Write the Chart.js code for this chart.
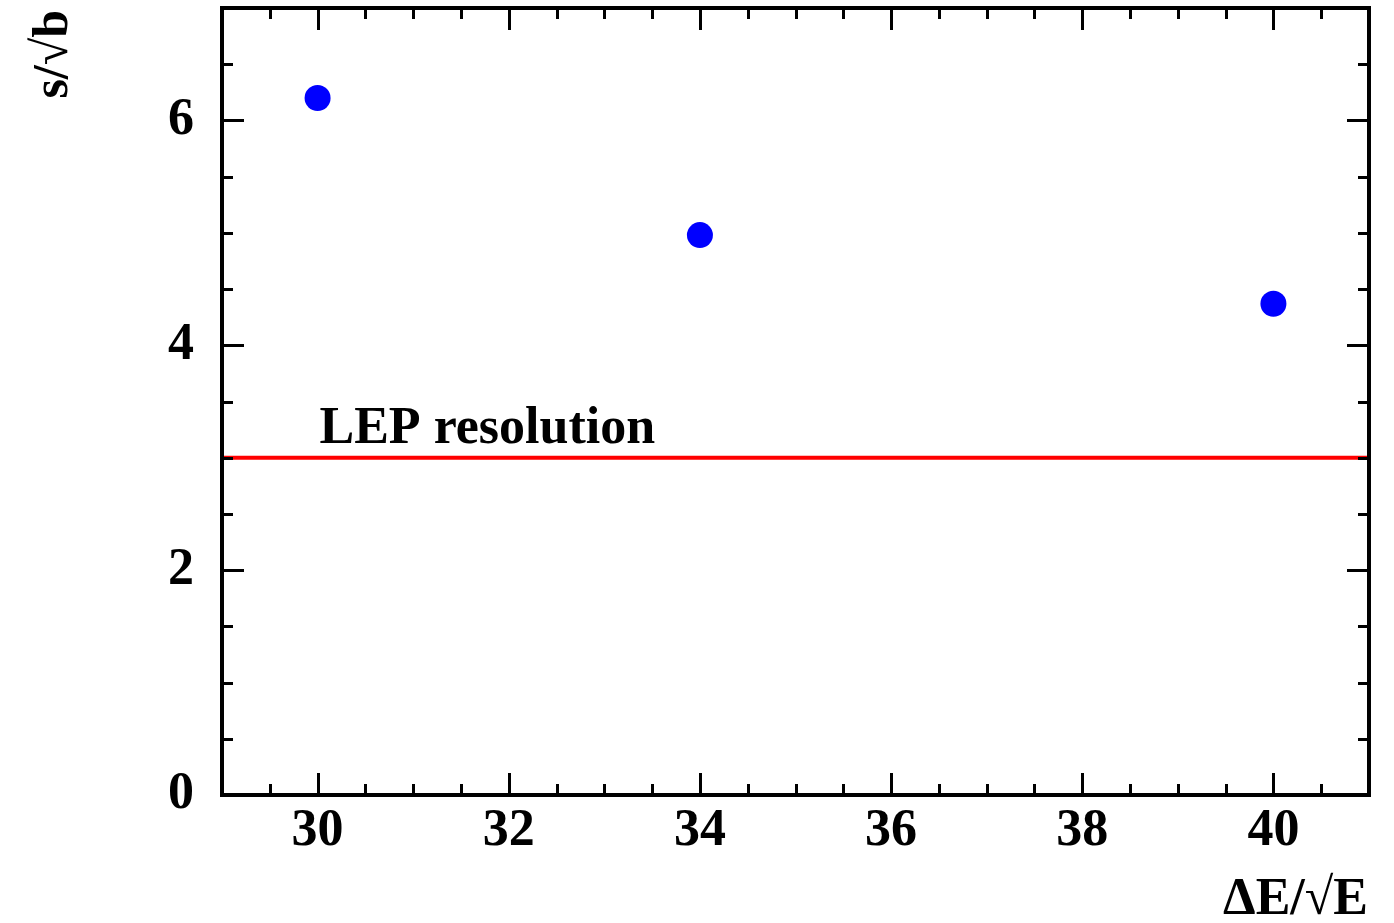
<!DOCTYPE html>
<html><head><meta charset="utf-8">
<script src="https://cdn.jsdelivr.net/npm/chart.js@4/dist/chart.umd.min.js"></script>
<style>html,body{margin:0;padding:0;background:#fff}#wrap{width:1394px;height:923px}</style>
</head><body><div id="wrap"><canvas id="c" width="1394" height="923"></canvas></div>
<script>
const xValues = [30, 34, 40];
const yValues = [6.2, 4.98, 4.37];
const lepLevel = 3.0;
const lepLabel = "LEP resolution";
const xTickLabels = [30, 32, 34, 36, 38, 40];
const yTickLabels = [0, 2, 4, 6];
const xTitle = "ΔE/√E";
const yTitle = "s/√b";

const FONT = "'Liberation Serif','Times New Roman',serif";

const rootFrame = {
  id: 'rootFrame',
  afterDraw(chart) {
    const {ctx, chartArea: a, scales: {x, y}} = chart;
    ctx.save();
    ctx.strokeStyle = '#000';
    ctx.lineWidth = 3;
    for (let v = 29; v <= 41.0001; v += 0.5) {
      const px = Math.round(x.getPixelForValue(v)) + 0.5;
      const major = Math.abs(v % 2) < 1e-6;
      const len = major ? 22 : 11;
      ctx.beginPath(); ctx.moveTo(px, a.bottom); ctx.lineTo(px, a.bottom - len); ctx.stroke();
      ctx.beginPath(); ctx.moveTo(px, a.top); ctx.lineTo(px, a.top + len); ctx.stroke();
    }
    for (let v = 0; v <= 7.0001; v += 0.5) {
      const py = Math.round(y.getPixelForValue(v)) + 0.5;
      const major = Math.abs(v % 2) < 1e-6;
      const len = major ? 22 : 11;
      ctx.beginPath(); ctx.moveTo(a.left, py); ctx.lineTo(a.left + len, py); ctx.stroke();
      ctx.beginPath(); ctx.moveTo(a.right, py); ctx.lineTo(a.right - len, py); ctx.stroke();
    }
    ctx.lineWidth = 4;
    ctx.strokeRect(a.left, a.top, a.right - a.left, a.bottom - a.top);
    ctx.fillStyle = '#000';
    ctx.font = 'bold 52px ' + FONT;
    ctx.textAlign = 'left';
    ctx.textBaseline = 'alphabetic';
    ctx.fillText(lepLabel, x.getPixelForValue(30.02), y.getPixelForValue(lepLevel) - 15);
    ctx.font = 'bold 52px ' + FONT;
    ctx.textAlign = 'right';
    ctx.fillText(xTitle, a.right - 1, 914);
    ctx.save();
    ctx.font = 'bold 50px ' + FONT;
    ctx.translate(67, 10);
    ctx.rotate(-Math.PI / 2);
    ctx.textAlign = 'right';
    ctx.fillText(yTitle, 0, 0);
    ctx.restore();
    ctx.restore();
  }
};

new Chart(document.getElementById('c'), {
  type: 'scatter',
  data: {
    datasets: [
      {
        label: 'points',
        data: xValues.map((v, i) => ({x: v, y: yValues[i]})),
        backgroundColor: '#0000ff',
        borderColor: '#0000ff',
        pointRadius: 13,
        pointHoverRadius: 13,
        borderWidth: 0
      },
      {
        label: 'LEP',
        type: 'line',
        data: [{x: 29, y: lepLevel}, {x: 41, y: lepLevel}],
        borderColor: '#ff0000',
        borderWidth: 4,
        pointRadius: 0,
        fill: false
      }
    ]
  },
  options: {
    responsive: false,
    animation: false,
    events: [],
    layout: {autoPadding: false, padding: {left: 0, right: 25, top: 8, bottom: 0}},
    plugins: {legend: {display: false}, tooltip: {enabled: false}},
    scales: {
      x: {
        type: 'linear', min: 29, max: 41,
        afterFit(s) { s.height = 128; s.paddingLeft = 0; s.paddingRight = 0; },
        afterBuildTicks(s) { s.ticks = xTickLabels.map(v => ({value: v})); },
        grid: {display: false, drawTicks: false},
        border: {display: false},
        ticks: {padding: 5, color: '#000', font: {family: FONT, size: 52, weight: 'bold'}, maxRotation: 0, autoSkip: false}
      },
      y: {
        type: 'linear', min: 0, max: 7,
        afterFit(s) { s.width = 222; s.paddingTop = 0; s.paddingBottom = 0; },
        afterBuildTicks(s) { s.ticks = yTickLabels.map(v => ({value: v})); },
        grid: {display: false, drawTicks: false},
        border: {display: false},
        ticks: {padding: 28, color: '#000', font: {family: FONT, size: 52, weight: 'bold'}, autoSkip: false}
      }
    }
  },
  plugins: [rootFrame]
});
</script>
</body></html>
